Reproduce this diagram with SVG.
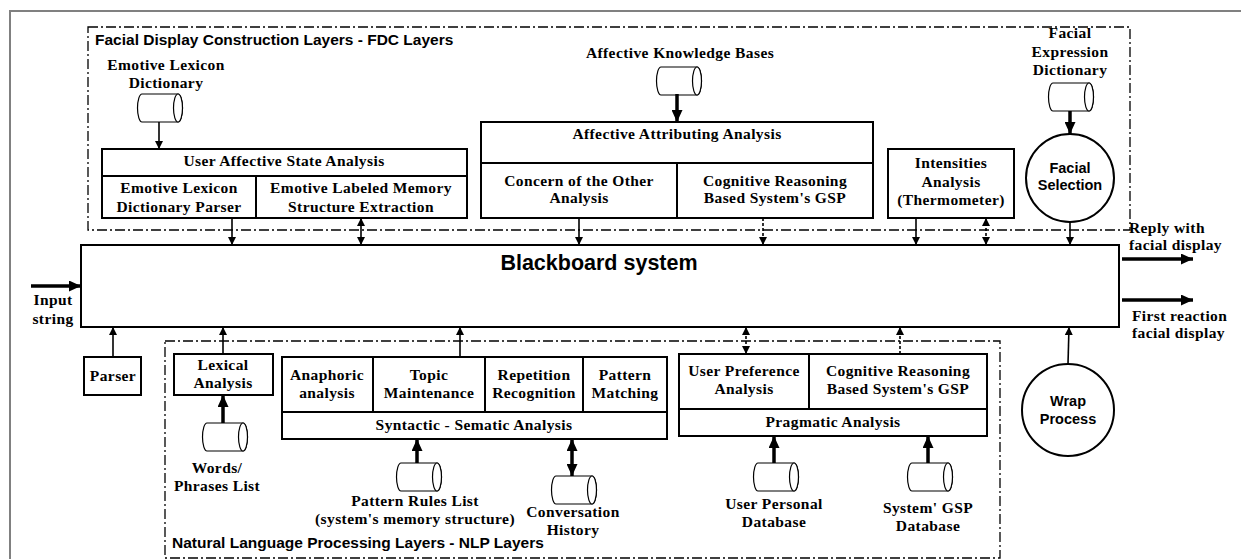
<svg xmlns="http://www.w3.org/2000/svg" width="1241" height="559" viewBox="0 0 1241 559">
<style>
.s{font-family:"Liberation Serif","Times New Roman",serif;font-weight:bold;font-size:15.5px;letter-spacing:0.4px;fill:#000;text-anchor:middle}
.st{text-anchor:start}
.h{font-family:"Liberation Sans",Arial,sans-serif;font-weight:bold;font-size:15.5px;fill:#000}
.c{font-family:"Liberation Sans",Arial,sans-serif;font-weight:bold;font-size:14.5px;fill:#000;text-anchor:middle}
.bx{fill:#fff;stroke:#000;stroke-width:2}
.ln{fill:none;stroke:#000;stroke-width:2}
.layer{fill:none;stroke:#000;stroke-width:1.3;stroke-dasharray:10 3 2 3}
.a{fill:none;stroke:#000;stroke-width:1.6}
.d{stroke-dasharray:3 2}
.t{fill:none;stroke:#000;stroke-width:3.5}
.ah{marker-end:url(#m)}
.ab{marker-start:url(#m);marker-end:url(#m)}
.th{marker-end:url(#M)}
.tb{marker-start:url(#M);marker-end:url(#M)}
.cyl{fill:#fff;stroke:#000;stroke-width:1.2}
</style>
<defs>
<marker id="m" viewBox="0 0 8 8" refX="8" refY="4" markerWidth="8" markerHeight="8" markerUnits="userSpaceOnUse" orient="auto-start-reverse"><path d="M0,0 L8,4 L0,8 Z" fill="#000"/></marker>
<marker id="M" viewBox="0 0 12 11" refX="12" refY="5.5" markerWidth="12" markerHeight="11" markerUnits="userSpaceOnUse" orient="auto-start-reverse"><path d="M0,0 L12,5.5 L0,11 Z" fill="#000"/></marker>
<g id="cylinder">
<path class="cyl" d="M5,0 H41 A4.5,14 0 0 1 41,28 H5 A4.5,14 0 0 1 5,0 Z"/>
<ellipse class="cyl" cx="41" cy="14" rx="4.5" ry="14"/>
</g>
</defs>
<rect width="1241" height="559" fill="#fff"/>
<rect x="10" y="11" width="1240" height="560" fill="none" stroke="#808080" stroke-width="2"/>

<g id="fdc-layer">
<rect class="layer" x="88" y="27" width="1042" height="203"/>
<text class="h" x="95" y="45">Facial Display Construction Layers - FDC Layers</text>
</g>
<g id="nlp-layer">
<rect class="layer" x="165" y="341" width="835" height="217"/>
<text class="h" x="172" y="548">Natural Language Processing Layers - NLP Layers</text>
</g>

<g id="emotive-lexicon-dictionary">
<text class="s" x="166" y="70">Emotive Lexicon</text>
<text class="s" x="166" y="88">Dictionary</text>
<use href="#cylinder" x="137" y="94"/>
</g>
<g id="user-affective-state-analysis">
<rect class="bx" x="102" y="149" width="365" height="69"/>
<line class="ln" x1="102" y1="176" x2="467" y2="176"/>
<line class="ln" x1="256" y1="176" x2="256" y2="218"/>
<text class="s" x="284" y="166">User Affective State Analysis</text>
<text class="s" x="179" y="193">Emotive Lexicon</text>
<text class="s" x="179" y="212">Dictionary Parser</text>
<text class="s" x="361" y="193">Emotive Labeled Memory</text>
<text class="s" x="361" y="212">Structure Extraction</text>
</g>
<g id="affective-knowledge-bases">
<text class="s" x="680" y="58">Affective Knowledge Bases</text>
<use href="#cylinder" x="656" y="67"/>
</g>
<g id="affective-attributing-analysis">
<rect class="bx" x="481" y="122" width="392" height="96"/>
<line class="ln" x1="481" y1="163" x2="873" y2="163"/>
<line class="ln" x1="677" y1="163" x2="677" y2="218"/>
<text class="s" x="677" y="139">Affective Attributing Analysis</text>
<text class="s" x="579" y="186">Concern of the Other</text>
<text class="s" x="579" y="203">Analysis</text>
<text class="s" x="775" y="186">Cognitive Reasoning</text>
<text class="s" x="775" y="203">Based System's GSP</text>
</g>
<g id="intensities-analysis">
<rect class="bx" x="888" y="149" width="126" height="69"/>
<text class="s" x="951" y="168">Intensities</text>
<text class="s" x="951" y="187">Analysis</text>
<text class="s" x="951" y="205">(Thermometer)</text>
</g>
<g id="facial-expression-dictionary">
<text class="s" x="1070" y="38">Facial</text>
<text class="s" x="1070" y="57">Expression</text>
<text class="s" x="1070" y="75">Dictionary</text>
<use href="#cylinder" x="1048" y="83"/>
</g>
<g id="facial-selection">
<circle class="bx" cx="1070" cy="178" r="44"/>
<text class="c" x="1070" y="173">Facial</text>
<text class="c" x="1070" y="190">Selection</text>
</g>

<g id="blackboard-system">
<rect class="bx" x="81" y="245" width="1038" height="82"/>
<text x="599" y="270" font-family="Liberation Sans,Arial,sans-serif" font-weight="bold" font-size="21.5" text-anchor="middle">Blackboard system</text>
</g>
<g id="input-string">
<text class="s" x="53" y="305">Input</text>
<text class="s" x="53" y="324">string</text>
</g>
<g id="outputs">
<text class="s st" x="1129" y="233">Reply with</text>
<text class="s st" x="1129" y="250">facial display</text>
<text class="s st" x="1132" y="321">First reaction</text>
<text class="s st" x="1132" y="338">facial display</text>
</g>

<g id="parser">
<rect class="bx" x="84" y="357" width="57" height="38"/>
<text class="s" x="113" y="381">Parser</text>
</g>
<g id="lexical-analysis">
<rect class="bx" x="174" y="354" width="99" height="41"/>
<text class="s" x="223" y="370">Lexical</text>
<text class="s" x="223" y="388">Analysis</text>
</g>
<g id="words-phrases-list">
<use href="#cylinder" x="202" y="423"/>
<text class="s" x="217" y="473">Words/</text>
<text class="s" x="217" y="491">Phrases List</text>
</g>
<g id="syntactic-sematic-analysis">
<rect class="bx" x="282" y="357" width="385" height="82"/>
<line class="ln" x1="282" y1="412" x2="667" y2="412"/>
<line class="ln" x1="373" y1="357" x2="373" y2="412"/>
<line class="ln" x1="485" y1="357" x2="485" y2="412"/>
<line class="ln" x1="583" y1="357" x2="583" y2="412"/>
<text class="s" x="327" y="380">Anaphoric</text>
<text class="s" x="327" y="398">analysis</text>
<text class="s" x="429" y="380">Topic</text>
<text class="s" x="429" y="398">Maintenance</text>
<text class="s" x="534" y="380">Repetition</text>
<text class="s" x="534" y="398">Recognition</text>
<text class="s" x="625" y="380">Pattern</text>
<text class="s" x="625" y="398">Matching</text>
<text class="s" x="474" y="430">Syntactic - Sematic Analysis</text>
</g>
<g id="pattern-rules-list">
<use href="#cylinder" x="396" y="463"/>
<text class="s" x="415" y="506">Pattern Rules List</text>
<text class="s" x="415" y="524">(system's memory structure)</text>
</g>
<g id="conversation-history">
<use href="#cylinder" x="551" y="476"/>
<text class="s" x="573" y="517">Conversation</text>
<text class="s" x="573" y="535">History</text>
</g>
<g id="pragmatic-analysis">
<rect class="bx" x="679" y="354" width="308" height="82"/>
<line class="ln" x1="679" y1="409" x2="987" y2="409"/>
<line class="ln" x1="809" y1="354" x2="809" y2="409"/>
<text class="s" x="744" y="376">User Preference</text>
<text class="s" x="744" y="394">Analysis</text>
<text class="s" x="898" y="376">Cognitive Reasoning</text>
<text class="s" x="898" y="394">Based System's GSP</text>
<text class="s" x="833" y="427">Pragmatic Analysis</text>
</g>
<g id="user-personal-database">
<use href="#cylinder" x="753" y="463"/>
<text class="s" x="774" y="509">User Personal</text>
<text class="s" x="774" y="527">Database</text>
</g>
<g id="system-gsp-database">
<use href="#cylinder" x="907" y="463"/>
<text class="s" x="928" y="513">System' GSP</text>
<text class="s" x="928" y="531">Database</text>
</g>
<g id="wrap-process">
<circle class="bx" cx="1068" cy="410" r="46"/>
<text class="c" x="1068" y="406">Wrap</text>
<text class="c" x="1068" y="424">Process</text>
</g>

<g id="connectors">
<line class="a ah" x1="159" y1="122" x2="159" y2="149"/>
<line class="t th" x1="677" y1="94" x2="677" y2="122"/>
<line class="t th" x1="1070" y1="111" x2="1070" y2="134"/>
<line class="a ah" x1="232" y1="218" x2="232" y2="245"/>
<line class="a ab" x1="361" y1="218" x2="361" y2="245"/>
<line class="a ah" x1="579" y1="218" x2="579" y2="245"/>
<line class="a d ah" x1="763" y1="218" x2="763" y2="245"/>
<line class="a ah" x1="916" y1="218" x2="916" y2="245"/>
<line class="a d ab" x1="986" y1="218" x2="986" y2="245"/>
<line class="a ah" x1="1070" y1="222" x2="1070" y2="245"/>
<line class="t th" x1="31" y1="286" x2="81" y2="286"/>
<line class="t th" x1="1122" y1="259" x2="1193" y2="259"/>
<line class="t th" x1="1122" y1="300" x2="1193" y2="300"/>
<line class="a ah" x1="113" y1="357" x2="113" y2="327"/>
<line class="a ah" x1="223" y1="354" x2="223" y2="327"/>
<line class="a ah" x1="460" y1="357" x2="460" y2="327"/>
<line class="a d ab" x1="746" y1="354" x2="746" y2="327"/>
<line class="a d ah" x1="900" y1="354" x2="900" y2="327"/>
<line class="a ah" x1="1068" y1="364" x2="1069" y2="327"/>
<line class="t th" x1="223" y1="423" x2="223" y2="395"/>
<line class="t th" x1="417" y1="463" x2="417" y2="439"/>
<line class="t tb" x1="572" y1="476" x2="572" y2="439"/>
<line class="t th" x1="774" y1="463" x2="774" y2="436"/>
<line class="t th" x1="928" y1="463" x2="928" y2="436"/>
</g>
</svg>
